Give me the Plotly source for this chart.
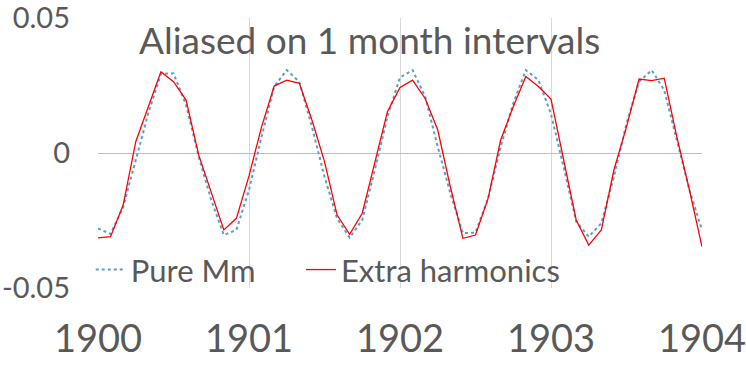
import plotly.graph_objects as go

months = list(range(49))
t_years = [1900 + m / 12 for m in months]

pure_mm = [-0.0279, -0.0300, -0.0200, -0.0026, 0.0147, 0.0293, 0.0295, 0.0178, -0.0014, -0.0174,
           -0.0304, -0.0285, -0.0137, 0.0060, 0.0246, 0.0307, 0.0264, 0.0097, -0.0088, -0.0242,
           -0.0314, -0.0248, -0.0063, 0.0134, 0.0280, 0.0307, 0.0209, 0.0023, -0.0149, -0.0297,
           -0.0295, -0.0168, 0.0023, 0.0184, 0.0307, 0.0270, 0.0144, -0.0051, -0.0254, -0.0310,
           -0.0260, -0.0088, 0.0110, 0.0264, 0.0307, 0.0233, 0.0048, -0.0137, -0.0285]

extra_harm = [-0.0314, -0.0310, -0.0193, 0.0042, 0.0171, 0.0301, 0.0264, 0.0196, -0.0007, -0.0149,
              -0.0285, -0.0242, -0.0085, 0.0097, 0.0248, 0.0270, 0.0258, 0.0122, -0.0032, -0.0230,
              -0.0301, -0.0223, -0.0038, 0.0153, 0.0243, 0.0270, 0.0202, 0.0085, -0.0125, -0.0316,
              -0.0304, -0.0168, 0.0048, 0.0171, 0.0283, 0.0246, 0.0200, -0.0026, -0.0248, -0.0341,
              -0.0285, -0.0063, 0.0097, 0.0274, 0.0268, 0.0277, 0.0060, -0.0137, -0.0347]

x_ticks = [1900, 1901, 1902, 1903, 1904]
x_tick_labels = ["1900", "1901", "1902", "1903", "1904"]
y_ticks = [0.05, 0, -0.05]
y_tick_labels = ["0.05", "0", "-0.05"]
title_text = "Aliased on 1 month intervals"

FONT = "Lato, 'Open Sans', sans-serif"
TXT = "#595959"

fig = go.Figure()
fig.add_trace(go.Scatter(x=t_years, y=pure_mm, mode="lines", name="Pure Mm", legend="legend",
                         line=dict(color="#5b9bd5", width=2, dash="dot")))
fig.add_trace(go.Scatter(x=t_years, y=extra_harm, mode="lines", name="Extra harmonics",
                         legend="legend2", line=dict(color="#ff0000", width=1.3)))

leg_common = dict(orientation="h", xanchor="left", y=0.067, yanchor="middle",
                  font=dict(size=31, color=TXT, family=FONT), bgcolor="rgba(0,0,0,0)",
                  itemwidth=30)

fig.update_layout(
    width=746, height=374,
    margin=dict(l=98, r=44, t=18, b=86, autoexpand=False),
    paper_bgcolor="white", plot_bgcolor="white",
    font=dict(family=FONT, color=TXT),
    showlegend=True,
    legend=dict(x=-0.012, **leg_common),
    legend2=dict(x=0.336, **leg_common),
    annotations=[dict(text=title_text, xref="paper", yref="paper", x=0.45, y=0.922,
                      xanchor="center", yanchor="middle", showarrow=False,
                      font=dict(size=37, color=TXT, family=FONT))],
)
fig.update_xaxes(range=[1900, 1904], tickvals=x_ticks, ticktext=x_tick_labels,
                 showgrid=True, gridcolor="#d9d9d9", gridwidth=1, zeroline=False,
                 showline=False, ticks="", tickfont=dict(size=38, color=TXT),
                 ticklabelstandoff=25, automargin=False, ticklabeloverflow="allow")
fig.update_yaxes(range=[-0.05, 0.05], tickvals=y_ticks, ticktext=y_tick_labels,
                 showgrid=False, zeroline=True, zerolinecolor="#bfbfbf", zerolinewidth=1,
                 showline=False, ticks="", tickfont=dict(size=29, color=TXT),
                 ticklabelstandoff=27, automargin=False, ticklabeloverflow="allow")

fig.write_html("out.html")
